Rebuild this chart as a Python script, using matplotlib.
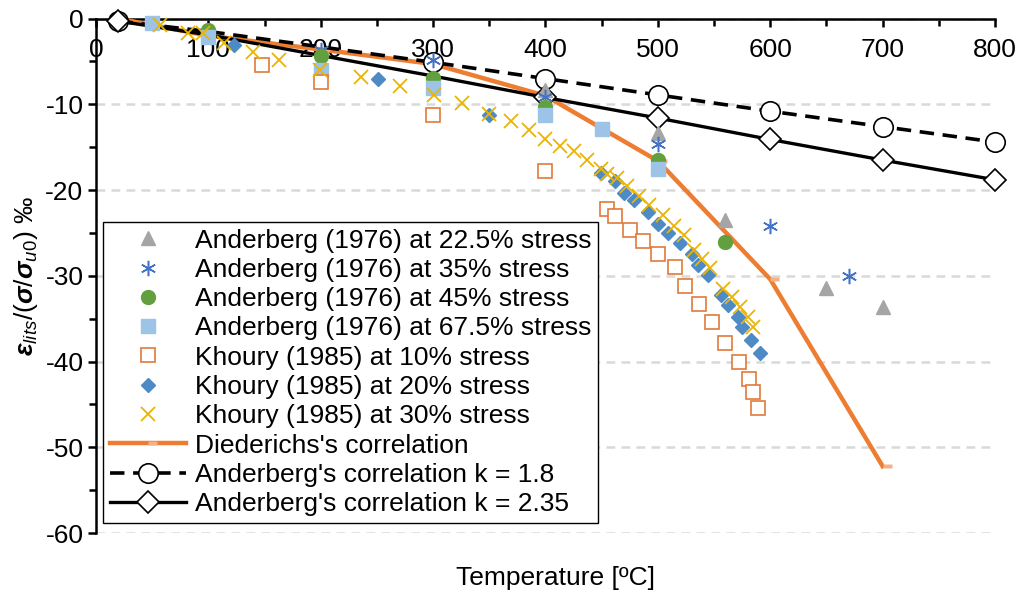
import numpy as np
import matplotlib
matplotlib.use("Agg")
import matplotlib.pyplot as plt
from matplotlib.path import Path
from matplotlib.ticker import MultipleLocator

plt.rcParams["font.family"] = ["Liberation Sans", "DejaVu Sans"]
plt.rcParams["axes.unicode_minus"] = False
plt.rcParams["mathtext.fontset"] = "custom"
plt.rcParams["mathtext.rm"] = "Liberation Sans"
plt.rcParams["mathtext.it"] = "Liberation Sans:italic"
plt.rcParams["mathtext.bf"] = "Liberation Sans:bold:italic"

# ---- data ----
ander_225_T = [400, 500, 560, 650, 700]
ander_225_e = [-8.3, -13.3, -23.5, -31.4, -33.6]

ander_35_T = [200, 300, 400, 500, 600, 670]
ander_35_e = [-3.7, -4.8, -9.1, -14.6, -24.2, -30.0]

ander_45_T = [100, 200, 300, 400, 500, 560]
ander_45_e = [-1.3, -4.4, -6.9, -10.3, -16.5, -26.0]

ander_675_T = [50, 100, 200, 300, 400, 450, 500]
ander_675_e = [-0.5, -2.1, -6.0, -8.1, -11.2, -12.9, -17.5]

khoury_10_T = [148, 200, 300, 400, 455, 462, 475, 487, 500, 515, 524, 537,
               548, 560, 572, 581, 585, 589]
khoury_10_e = [-5.4, -7.4, -11.2, -17.8, -22.2, -23.0, -24.6, -25.9, -27.4,
               -29.0, -31.2, -33.3, -35.4, -37.8, -40.1, -42.0, -43.5, -45.4]

khoury_20_T = [123, 251, 350, 449, 462, 470, 479, 491, 500, 509, 520, 530,
               536, 545, 556, 562, 571, 575, 583, 591]
khoury_20_e = [-3.1, -7.0, -11.2, -18.0, -19.0, -20.3, -21.2, -22.6, -23.9,
               -25.0, -26.2, -27.5, -28.7, -29.9, -32.2, -33.4, -34.8, -36.0,
               -37.5, -39.0]

khoury_30_T = [57, 82, 95, 114, 140, 163, 199, 236, 271, 301, 326, 350, 369,
               385, 400, 413, 425, 437, 449, 455, 464, 473, 483, 492, 505,
               514, 523, 532, 539, 546, 558, 566, 573, 580, 585]
khoury_30_e = [-0.75, -1.7, -1.7, -2.9, -3.9, -4.8, -6.0, -6.8, -7.9, -8.9,
               -9.9, -11.1, -12.0, -13.0, -14.0, -14.9, -15.5, -16.5, -17.5,
               -18.1, -18.6, -19.5, -20.7, -21.8, -22.9, -24.2, -25.2, -27.0,
               -28.0, -29.1, -31.5, -32.5, -33.6, -34.8, -36.0]

died_T = [20, 100, 200, 300, 400, 500, 600, 700]
died_e = [0.0, -2.0, -3.6, -5.3, -9.0, -16.6, -30.4, -52.2]

corr_T = [20, 100, 200, 300, 400, 500, 600, 700, 800]
corr_18_e = [-0.3, -1.5, -3.3, -5.1, -7.0, -8.9, -10.8, -12.6, -14.4]
corr_235_e = [-0.3, -1.9, -4.3, -6.7, -9.2, -11.6, -14.1, -16.5, -18.8]

# ---- figure ----
fig = plt.figure(figsize=(10.23, 5.96), dpi=100)
ax = fig.add_axes([0.0938, 0.1057, 0.8788, 0.8631])

# small salmon bar sitting right of each Diederichs point
bar = Path([(0, -0.22), (1, -0.22), (1, 0.22), (0, 0.22), (0, -0.22)])

l_died, = ax.plot(died_T, died_e, color="#ED7D31", lw=3.2, marker=bar,
                  ms=13, mfc="#F4B183", mec="none", clip_on=False, zorder=2,
                  label="Diederichs's correlation")
l_18, = ax.plot(corr_T, corr_18_e, color="black", lw=2.6, ls=(0, (4, 2.4)),
                marker="o", ms=14, mfc="white", mec="black", mew=1.2,
                markevery=[0, 3, 4, 5, 6, 7, 8], clip_on=False, zorder=3,
                label="Anderberg's correlation k = 1.8")
l_235, = ax.plot(corr_T, corr_235_e, color="black", lw=2.4, marker="D",
                 ms=11, mfc="white", mec="black", mew=1.2,
                 markevery=[0, 4, 5, 6, 7, 8], clip_on=False, zorder=3,
                 label="Anderberg's correlation k = 2.35")

kw = dict(ls="none", clip_on=False, zorder=4)
h1, = ax.plot(ander_225_T, ander_225_e, marker="^", ms=10, color="#A5A5A5",
              label="Anderberg (1976) at 22.5% stress", **kw)
h2, = ax.plot(ander_35_T, ander_35_e, marker=(6, 2, 0), ms=11, mew=1.1,
              color="#4472C4", label="Anderberg (1976) at 35% stress", **kw)
h3, = ax.plot(ander_45_T, ander_45_e, marker="o", ms=10, color="#62A03F",
              label="Anderberg (1976) at 45% stress", **kw)
h4, = ax.plot(ander_675_T, ander_675_e, marker="s", ms=10, color="#9DC3E6",
              label="Anderberg (1976) at 67.5% stress", **kw)
h5, = ax.plot(khoury_10_T, khoury_10_e, marker="s", ms=10, mfc="white",
              mec="#E07A3A", mew=1.2, label="Khoury (1985) at 10% stress", **kw)
h6, = ax.plot(khoury_20_T, khoury_20_e, marker="D", ms=7.5, color="#4E8AC4",
              label="Khoury (1985) at 20% stress", **kw)
h7, = ax.plot(khoury_30_T, khoury_30_e, marker="x", ms=10, mew=1.3,
              color="#EBB400", label="Khoury (1985) at 30% stress", **kw)

# ---- axes styling ----
ax.set_xlim(0, 800)
ax.set_ylim(-60, 0)
ax.spines["top"].set_visible(False)
ax.spines["right"].set_visible(False)
ax.spines["bottom"].set_position(("data", 0))
ax.spines["bottom"].set_linewidth(1.8)
ax.spines["left"].set_linewidth(1.8)
ax.spines["bottom"].set_zorder(1)

ax.xaxis.set_major_locator(MultipleLocator(100))
ax.xaxis.set_minor_locator(MultipleLocator(50))
ax.yaxis.set_major_locator(MultipleLocator(10))
ax.yaxis.set_minor_locator(MultipleLocator(5))
ax.tick_params(axis="both", which="major", direction="out", length=6,
               width=1.8, labelsize=19, pad=3)
ax.tick_params(axis="both", which="minor", direction="out", length=5,
               width=1.8)
ax.tick_params(axis="x", which="major", pad=8)

ax.set_axisbelow(True)
ax.yaxis.grid(True, which="major", color="#D9D9D9", lw=1.8,
              ls=(0, (3.5, 2.5)))

ax.set_ylabel(r"$\mathbf{ε}_{lits}$/($\mathbf{σ}$/$\mathbf{σ}_{u0}$) ‰",
              fontsize=19, labelpad=4)
fig.text(0.543, 0.03, "Temperature [ºC]", fontsize=19, ha="center",
         va="center")

leg = ax.legend(handles=[h1, h2, h3, h4, h5, h6, h7, l_died, l_18, l_235],
                loc="upper left", bbox_to_anchor=(0.0078, 0.6046),
                borderaxespad=0, fontsize=19, labelspacing=0.2,
                handlelength=2.9, handletextpad=0.35, borderpad=0.25,
                numpoints=1, fancybox=False, framealpha=1,
                edgecolor="black")
leg.get_frame().set_linewidth(1.0)
leg.set_zorder(6)

fig.savefig("out.png", dpi=100)
